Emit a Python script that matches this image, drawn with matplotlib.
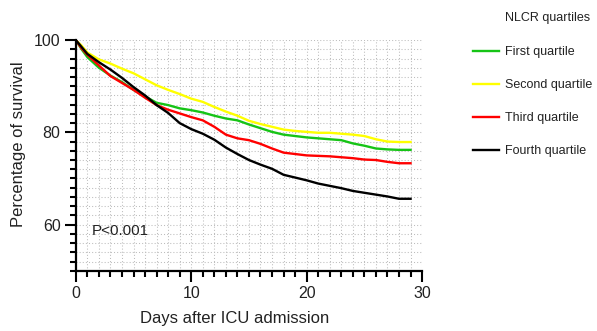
import matplotlib
matplotlib.use("Agg")
import matplotlib.pyplot as plt
from matplotlib.ticker import MultipleLocator

plt.rcParams['font.family'] = ['Liberation Sans', 'DejaVu Sans']

days = [0, 0.5, 1, 2, 3, 4, 5, 6, 7, 8, 9, 10, 11, 12, 13, 14, 15, 16, 17, 18,
        19, 20, 21, 22, 23, 24, 25, 26, 27, 28, 29]
first_q = [100, 98.0, 96.3, 94.0, 92.3, 90.9, 89.2, 87.8, 86.4, 85.9, 85.2, 84.8,
           84.3, 83.6, 83.0, 82.6, 81.7, 80.9, 80.1, 79.5, 79.2, 78.9, 78.7, 78.5,
           78.3, 77.6, 77.1, 76.5, 76.3, 76.2, 76.2]
second_q = [100, 98.8, 97.3, 95.8, 94.9, 93.8, 92.8, 91.5, 90.2, 89.2, 88.3, 87.3,
            86.6, 85.5, 84.5, 83.6, 82.5, 81.8, 81.2, 80.6, 80.3, 80.1, 79.9, 79.9,
            79.7, 79.5, 79.2, 78.5, 78.0, 77.9, 77.9]
third_q = [100, 98.2, 96.8, 94.5, 92.2, 90.7, 89.2, 87.5, 85.9, 84.9, 84.1, 83.3,
           82.6, 81.2, 79.5, 78.7, 78.3, 77.5, 76.5, 75.6, 75.3, 75.0, 74.9, 74.8,
           74.6, 74.4, 74.1, 74.0, 73.6, 73.3, 73.3]
fourth_q = [100, 98.5, 97.0, 95.2, 93.6, 91.8, 89.8, 88.0, 85.9, 84.2, 82.0, 80.7,
            79.7, 78.4, 76.7, 75.3, 74.0, 73.0, 72.1, 70.8, 70.2, 69.6, 68.9, 68.4,
            67.9, 67.3, 66.9, 66.5, 66.1, 65.6, 65.6]

series = [("First quartile", first_q, "#16c416"),
          ("Second quartile", second_q, "#ffff00"),
          ("Third quartile", third_q, "#ff0000"),
          ("Fourth quartile", fourth_q, "#000000")]

fig = plt.figure(figsize=(5.97, 3.31), dpi=100)
ax = fig.add_axes([0.127, 0.182, 0.58, 0.697])

handles = []
for label, vals, col in series:
    h, = ax.plot(days, vals, color=col, lw=1.7, label=label, solid_joinstyle='miter')
    handles.append(h)

ax.set_xlim(0, 30)
ax.set_ylim(50, 100)
ax.xaxis.set_major_locator(MultipleLocator(10))
ax.xaxis.set_minor_locator(MultipleLocator(1))
ax.yaxis.set_major_locator(MultipleLocator(20))
ax.yaxis.set_minor_locator(MultipleLocator(2))
ax.set_yticks([60, 80, 100])

ax.grid(which='both', color='#bdbdbd', linestyle=(0, (1, 2)), linewidth=0.75)
ax.set_axisbelow(True)

for s in ['top', 'right']:
    ax.spines[s].set_visible(False)
for s in ['left', 'bottom']:
    ax.spines[s].set_linewidth(1.6)

ax.tick_params(which='major', length=8, width=1.5, labelsize=11.5, pad=3,
               labelcolor='#222222')
ax.tick_params(which='minor', length=4.5, width=1.5)

ax.set_xlabel("Days after ICU admission", fontsize=12, color='#222222')
ax.set_ylabel("Percentage of survival", fontsize=12, color='#222222')
ax.xaxis.set_label_coords(0.46, -0.175)
ax.yaxis.set_label_coords(-0.145, 0.55)

ax.text(1.4, 58.7, "P<0.001", fontsize=11, ha='left', va='center', color='#222222')

fig.text(505 / 597, 1 - 18 / 331, "NLCR quartiles", fontsize=9, ha='left', va='center',
         color='#222222')
leg = fig.legend(handles=handles, loc='upper left', bbox_to_anchor=(473 / 597, 1 - 46 / 331),
                 frameon=False, fontsize=9, handlelength=2.1, handletextpad=0.45,
                 labelspacing=1.68, borderaxespad=0, borderpad=0)
for t in leg.get_texts():
    t.set_color('#222222')

fig.savefig("out.png", dpi=100)
